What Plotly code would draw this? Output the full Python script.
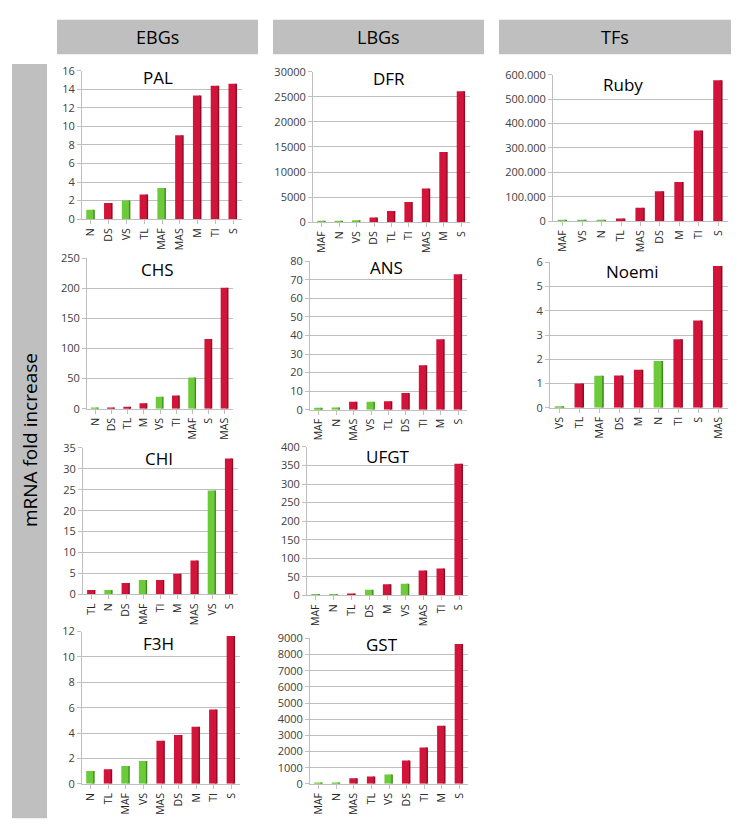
import plotly.graph_objects as go

W, H = 756, 835

# ---------------- data ----------------
pal_cats = ["N", "DS", "VS", "TL", "MAF", "MAS", "M", "TI", "S"]
pal_vals = [1.0, 1.75, 2.0, 2.65, 3.35, 9.05, 13.35, 14.4, 14.6]
pal_green = ["N", "VS", "MAF"]

dfr_cats = ["MAF", "N", "VS", "DS", "TL", "TI", "MAS", "M", "S"]
dfr_vals = [60, 120, 350, 900, 2200, 4000, 6700, 14000, 26100]
dfr_green = ["MAF", "N", "VS"]

ruby_cats = ["MAF", "VS", "N", "TL", "MAS", "DS", "M", "TI", "S"]
ruby_vals = [1500, 1500, 1500, 11000, 55000, 122000, 160000, 372000, 578000]
ruby_green = ["MAF", "VS", "N"]

chs_cats = ["N", "DS", "TL", "M", "VS", "TI", "MAF", "S", "MAS"]
chs_vals = [2, 1.5, 3, 9, 20, 22, 52, 116, 201]
chs_green = ["N", "VS", "MAF"]

ans_cats = ["MAF", "N", "MAS", "VS", "TL", "DS", "TI", "M", "S"]
ans_vals = [1.0, 1.2, 4.2, 4.2, 4.5, 9.0, 24, 38, 73]
ans_green = ["MAF", "N", "VS"]

noemi_cats = ["VS", "TL", "MAF", "DS", "M", "N", "TI", "S", "MAS"]
noemi_vals = [0.04, 1.0, 1.32, 1.33, 1.57, 1.93, 2.83, 3.6, 5.85]
noemi_green = ["VS", "MAF", "N"]

chi_cats = ["TL", "N", "DS", "MAF", "TI", "M", "MAS", "VS", "S"]
chi_vals = [1.0, 1.0, 2.7, 3.4, 3.4, 4.9, 8.1, 24.8, 32.5]
chi_green = ["N", "MAF", "VS"]

ufgt_cats = ["MAF", "N", "TL", "DS", "M", "VS", "MAS", "TI", "S"]
ufgt_vals = [2, 2, 5, 15, 30, 31, 67, 72, 355]
ufgt_green = ["MAF", "N", "DS", "VS"]

f3h_cats = ["N", "TL", "MAF", "VS", "MAS", "DS", "M", "TI", "S"]
f3h_vals = [1.0, 1.15, 1.4, 1.8, 3.4, 3.85, 4.5, 5.85, 11.65]
f3h_green = ["N", "MAF", "VS"]

gst_cats = ["MAF", "N", "MAS", "TL", "VS", "DS", "TI", "M", "S"]
gst_vals = [30, 50, 350, 450, 580, 1450, 2250, 3600, 8650]
gst_green = ["MAF", "N", "VS"]

group_labels = ["EBGs", "LBGs", "TFs"]
y_label = "mRNA fold increase"

# --------------- panel layout (pixel boxes: x0, x1, ytop, ybottom) ---------------
panels = [
    dict(name="PAL", cats=pal_cats, vals=pal_vals, green=pal_green, ymax=16, dtick=2,
         box=(82, 242, 64, 215), title=(158, 71)),
    dict(name="DFR", cats=dfr_cats, vals=dfr_vals, green=dfr_green, ymax=30000, dtick=5000,
         box=(313, 470, 65, 218), title=(389, 72)),
    dict(name="Ruby", cats=ruby_cats, vals=ruby_vals, green=ruby_green, ymax=600000, dtick=100000,
         box=(553, 728, 68, 217), title=(623, 78), dotted=True),
    dict(name="CHS", cats=chs_cats, vals=chs_vals, green=chs_green, ymax=250, dtick=50,
         box=(87, 233, 255, 408), title=(157, 266)),
    dict(name="ANS", cats=ans_cats, vals=ans_vals, green=ans_green, ymax=80, dtick=10,
         box=(310, 467, 258, 409), title=(386, 264)),
    dict(name="Noemi", cats=noemi_cats, vals=noemi_vals, green=noemi_green, ymax=6, dtick=1,
         box=(550, 728, 259, 407), title=(632, 268)),
    dict(name="CHI", cats=chi_cats, vals=chi_vals, green=chi_green, ymax=35, dtick=5,
         box=(83, 238, 448, 597), title=(159, 459)),
    dict(name="UFGT", cats=ufgt_cats, vals=ufgt_vals, green=ufgt_green, ymax=400, dtick=50,
         box=(307, 468, 447, 598), title=(388, 457)),
    dict(name="F3H", cats=f3h_cats, vals=f3h_vals, green=f3h_green, ymax=12, dtick=2,
         box=(82, 240, 635, 790), title=(158, 647)),
    dict(name="GST", cats=gst_cats, vals=gst_vals, green=gst_green, ymax=9000, dtick=1000,
         box=(310, 468, 642, 790), title=(382, 648)),
]

RED, RED_D = "#D2143A", "#8E0C26"
GRN, GRN_D = "#6CCB3A", "#3E8A1C"
FONT = "Open Sans"

fig = go.Figure()
layout = dict(
    width=W, height=H, margin=dict(l=0, r=0, t=0, b=0),
    paper_bgcolor="white", plot_bgcolor="white", showlegend=False,
    barmode="overlay", font=dict(family=FONT, color="#404040"),
)
annotations = []
shapes = []

for i, p in enumerate(panels, start=1):
    xs = "x" if i == 1 else f"x{i}"
    ys = "y" if i == 1 else f"y{i}"
    front = [GRN if c in p["green"] else RED for c in p["cats"]]
    side = [GRN_D if c in p["green"] else RED_D for c in p["cats"]]
    fig.add_trace(go.Bar(x=p["cats"], y=p["vals"], xaxis=xs, yaxis=ys,
                         marker=dict(color=side, line=dict(width=0)),
                         width=0.14, offset=0.08, hoverinfo="skip"))
    fig.add_trace(go.Bar(x=p["cats"], y=p["vals"], xaxis=xs, yaxis=ys,
                         marker=dict(color=front, line=dict(width=0)),
                         width=0.40, offset=-0.26))
    x0, x1, yt, yb = p["box"]
    xa = dict(domain=[x0 / W, x1 / W], anchor=ys, type="category",
              categoryorder="array", categoryarray=p["cats"], range=[-0.5, 8.5],
              tickangle=-90, tickfont=dict(size=10.5, color="#262626", family=FONT),
              showline=True, linecolor="#BFBFBF", ticks="outside", ticklen=4,
              tickcolor="#BFBFBF", showgrid=False, fixedrange=True)
    tickvals = list(range(0, p["ymax"] + 1, p["dtick"]))
    if p.get("dotted"):
        ticktext = ["0" if v == 0 else f"{v // 1000}.000" for v in tickvals]
    else:
        ticktext = [str(v) for v in tickvals]
    ya = dict(domain=[1 - yb / H, 1 - yt / H], anchor=xs, range=[0, p["ymax"]],
              tickvals=tickvals, ticktext=ticktext,
              tickfont=dict(size=11, color="#404040", family=FONT),
              showgrid=True, gridcolor="#BFBFBF", gridwidth=1,
              showline=True, linecolor="#BFBFBF", ticks="outside", ticklen=4,
              tickcolor="#BFBFBF", zeroline=False, fixedrange=True)
    layout["xaxis" if i == 1 else f"xaxis{i}"] = xa
    layout["yaxis" if i == 1 else f"yaxis{i}"] = ya
    tx, ty = p["title"]
    annotations.append(dict(text=p["name"], x=tx / W, y=1 - ty / H, xref="paper", yref="paper",
                            showarrow=False, xanchor="center", yanchor="middle",
                            font=dict(size=17, color="#000000", family=FONT)))

# header boxes
for (x0, x1), lab in zip([(57, 258), (273, 484), (499, 731)], group_labels):
    shapes.append(dict(type="rect", xref="paper", yref="paper", x0=x0 / W, x1=x1 / W,
                       y0=1 - 47 / H, y1=1 - 12 / H, fillcolor="#BFBFBF", line=dict(width=0),
                       layer="below"))
    annotations.append(dict(text=lab, x=(x0 + x1) / 2 / W, y=1 - 30 / H, xref="paper", yref="paper",
                            showarrow=False, xanchor="center", yanchor="middle",
                            font=dict(size=18, color="#000000", family=FONT)))

# left label box
shapes.append(dict(type="rect", xref="paper", yref="paper", x0=12 / W, x1=47 / W,
                   y0=1 - 825 / H, y1=1 - 57 / H, fillcolor="#BFBFBF", line=dict(width=0),
                   layer="below"))
annotations.append(dict(text=y_label, x=30 / W, y=1 - 440 / H, xref="paper", yref="paper",
                        showarrow=False, textangle=-90, xanchor="center", yanchor="middle",
                        font=dict(size=19, color="#000000", family=FONT)))

layout["annotations"] = annotations
layout["shapes"] = shapes
fig.update_layout(**layout)
fig.write_html("out.html", config={"displayModeBar": False},
               post_script="document.body.style.margin='0';document.body.style.overflow='hidden';")
